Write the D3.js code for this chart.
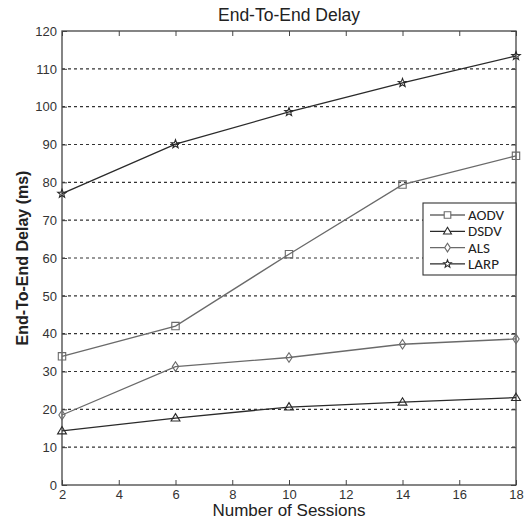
<!DOCTYPE html>
<html><head><meta charset="utf-8">
<script src="https://cdn.jsdelivr.net/npm/d3@7"></script>
<style>body{margin:0;background:#fff}svg{display:block}</style>
</head><body>
<svg id="c" width="524" height="523"></svg>
<script>
const sessions = [2, 6, 10, 14, 18];
const aodv = [34, 42, 61, 79.4, 87];
const dsdv = [14.3, 17.7, 20.6, 21.9, 23.1];
const als  = [18.5, 31.3, 33.7, 37.2, 38.6];
const larp = [77, 90.1, 98.6, 106.3, 113.4];
const xTicks = [2, 4, 6, 8, 10, 12, 14, 16, 18];
const yTicks = [0, 10, 20, 30, 40, 50, 60, 70, 80, 90, 100, 110, 120];
const seriesNames = ["AODV", "DSDV", "ALS", "LARP"];

const series = [
  {name: seriesNames[0], vals: aodv, color: "#6a6a6a", marker: "square"},
  {name: seriesNames[1], vals: dsdv, color: "#2a2a2a", marker: "triangle"},
  {name: seriesNames[2], vals: als, color: "#6a6a6a", marker: "diamond"},
  {name: seriesNames[3], vals: larp, color: "#2a2a2a", marker: "star"}
];

const L = 62, R = 516, T = 31, B = 485;
const svg = d3.select("#c");
const x = d3.scaleLinear().domain([2, 18]).range([L, R]);
const y = d3.scaleLinear().domain([0, 120]).range([B, T]);
const font = "Liberation Sans, Arial, sans-serif";

// grid
svg.append("g").selectAll("line").data(yTicks.filter(d => d > 0 && d < 120)).join("line")
  .attr("x1", L).attr("x2", R).attr("y1", d => y(d)).attr("y2", d => y(d))
  .attr("stroke", "#333").attr("stroke-width", 1.1).attr("stroke-dasharray", "3,3");

// axes
const ax = (g, axis) => { g.call(axis); g.select(".domain").remove(); g.selectAll("line").attr("stroke", "#444"); g.selectAll("text").attr("font-family", font).attr("font-size", 13).attr("fill", "#333"); };
svg.append("g").attr("transform", `translate(0,${B})`).call(g => ax(g, d3.axisBottom(x).tickValues(xTicks).tickSize(-5).tickPadding(5).tickFormat(d3.format("d"))));
svg.append("g").attr("transform", `translate(0,${T})`).call(g => { ax(g, d3.axisTop(x).tickValues(xTicks).tickSize(-5).tickFormat("")); });
svg.append("g").attr("transform", `translate(${L},0)`).call(g => ax(g, d3.axisLeft(y).tickValues(yTicks).tickSize(-5).tickPadding(5).tickFormat(d3.format("d"))));
svg.append("g").attr("transform", `translate(${R},0)`).call(g => ax(g, d3.axisRight(y).tickValues(yTicks).tickSize(-5).tickFormat("")));

svg.append("rect").attr("x", L).attr("y", T).attr("width", R - L).attr("height", B - T)
  .attr("fill", "none").attr("stroke", "#444").attr("stroke-width", 1.3);

// markers
function markerPath(type, s) {
  if (type === "square") return `M${-s},${-s}H${s}V${s}H${-s}Z`;
  if (type === "triangle") return `M0,${-s*1.2}L${s*1.2},${s*0.8}L${-s*1.2},${s*0.8}Z`;
  if (type === "diamond") return `M0,${-s*1.3}L${s*0.85},0L0,${s*1.3}L${-s*0.85},0Z`;
  if (type === "star") {
    let p = [];
    for (let i = 0; i < 10; i++) {
      const r = i % 2 === 0 ? s * 1.2 : s * 0.5;
      const a = -Math.PI / 2 + i * Math.PI / 5;
      p.push([r * Math.cos(a), r * Math.sin(a)]);
    }
    return "M" + p.map(q => q.join(",")).join("L") + "Z";
  }
}

const line = d3.line().x((d, i) => x(sessions[i])).y(d => y(d));
series.forEach(s => {
  svg.append("path").datum(s.vals).attr("d", line).attr("fill", "none")
    .attr("stroke", s.color).attr("stroke-width", 1.3);
  svg.append("g").selectAll("path").data(s.vals).join("path")
    .attr("transform", (d, i) => `translate(${x(sessions[i])},${y(d)})`)
    .attr("d", markerPath(s.marker, 3.7)).attr("fill", "none")
    .attr("stroke", s.color).attr("stroke-width", 1.1);
});

// legend
const lg = svg.append("g");
const lx = 423, ly = 203, lw = 93, lh = 72;
lg.append("rect").attr("x", lx).attr("y", ly).attr("width", lw).attr("height", lh)
  .attr("fill", "#fff").attr("stroke", "#333").attr("stroke-width", 1.1);
series.forEach((s, i) => {
  const cy = ly + 12 + i * 16.3;
  lg.append("line").attr("x1", lx + 7).attr("x2", lx + 42).attr("y1", cy).attr("y2", cy)
    .attr("stroke", s.color).attr("stroke-width", 1.3);
  lg.append("path").attr("transform", `translate(${lx + 24.5},${cy})`).attr("d", markerPath(s.marker, 3.3))
    .attr("fill", "#fff").attr("stroke", s.color).attr("stroke-width", 1.1);
  lg.append("text").attr("x", lx + 45).attr("y", cy + 5).text(s.name)
    .attr("font-family", "Carlito, Calibri, Liberation Sans, sans-serif").attr("font-size", 15).attr("fill", "#222");
});

// titles
svg.append("text").attr("x", (L + R) / 2).attr("y", 21).attr("text-anchor", "middle")
  .attr("font-family", font).attr("font-size", 17.5).attr("fill", "#222").text("End-To-End Delay");
svg.append("text").attr("x", (L + R) / 2).attr("y", 516).attr("text-anchor", "middle")
  .attr("font-family", font).attr("font-size", 17).attr("fill", "#222").text("Number of Sessions");
svg.append("text").attr("transform", `translate(28,${(T + B) / 2}) rotate(-90)`).attr("text-anchor", "middle")
  .attr("font-family", font).attr("font-size", 16).attr("font-weight", "bold").attr("fill", "#222").text("End-To-End Delay (ms)");
</script>
</body></html>
